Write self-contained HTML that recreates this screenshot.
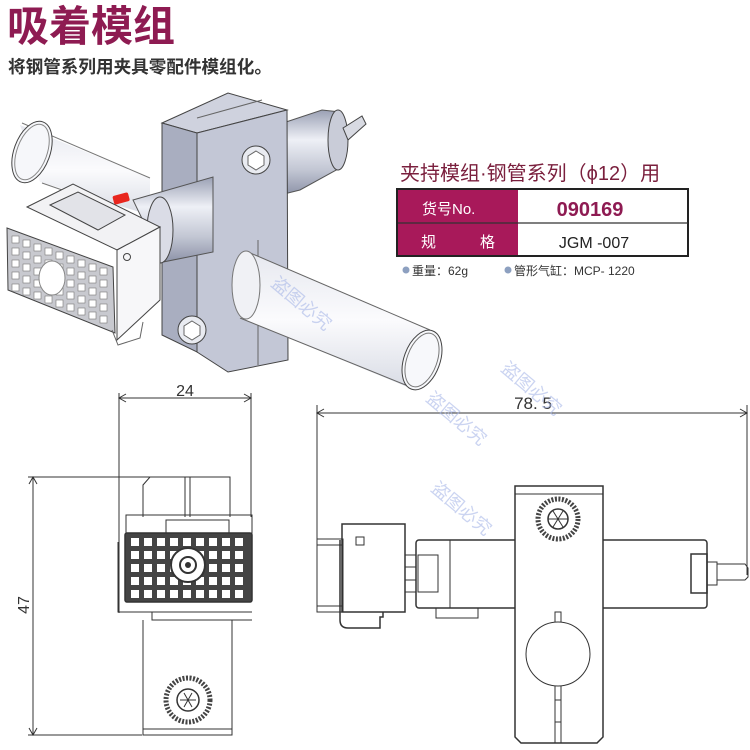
<!DOCTYPE html>
<html><head><meta charset="utf-8"><style>
html,body{margin:0;padding:0;background:#fff;width:750px;height:750px;overflow:hidden}
svg{display:block}
text{font-family:"Liberation Sans","Noto Sans CJK SC",sans-serif}
</style></head><body>
<svg width="750" height="750" viewBox="0 0 750 750" xmlns="http://www.w3.org/2000/svg">
<defs>
<linearGradient id="cyl" x1="0" y1="0" x2="0" y2="1">
<stop offset="0" stop-color="#9aa0b4"/><stop offset=".35" stop-color="#eef0f6"/><stop offset=".7" stop-color="#c3c7d4"/><stop offset="1" stop-color="#8d93a8"/></linearGradient>
<linearGradient id="tube" x1="0" y1="0" x2="0" y2="1">
<stop offset="0" stop-color="#e6e8ef"/><stop offset=".5" stop-color="#fbfbfd"/><stop offset="1" stop-color="#d9dce5"/></linearGradient>
</defs>
<text x="7" y="41" font-size="42" font-weight="bold" fill="#8e1b52">吸着模组</text>
<text x="8" y="73" font-size="17.6" font-weight="bold" fill="#333">将钢管系列用夹具零配件模组化。</text>

<g stroke="#444" stroke-width="1">
<path d="M20,125 L150,178 L150,215 L40,182 Z" fill="url(#tube)" stroke="none"/>
<path d="M22,123 L150,178 M42,183 L120,210" fill="none" stroke="#777"/>
<ellipse cx="32" cy="152" rx="18" ry="32" transform="rotate(20 32 152)" fill="#f6f7fa"/>
<ellipse cx="32" cy="152" rx="15" ry="29" transform="rotate(20 32 152)" fill="none" stroke="#888"/>
<path d="M280,124 L322,110 L340,112 L340,168 L300,190 L280,195 Z" fill="url(#cyl)" stroke="#555"/>
<ellipse cx="338" cy="140" rx="10" ry="30" fill="#c9ccd8"/>
<path d="M343,128 L362,116 L366,124 L348,140 Z" fill="#d8dae2"/>
<!-- clamp block -->
<polygon points="162,123 228,93 287,110 197,133" fill="#cfd2de"/>
<line x1="197" y1="118" x2="262" y2="100" stroke="#666"/>
<polygon points="162,123 197,133 197,352 162,335" fill="#a9aec0"/>
<polygon points="197,133 287,110 288,360 228,372 197,352" fill="#c3c7d6"/>
<line x1="258" y1="240" x2="258" y2="365" stroke="#666"/>
<!-- middle cylinder (in front of clamp left face) -->
<path d="M133,200 L213,177 L213,252 L163,262 Z" fill="url(#cyl)" stroke="#555"/>
<ellipse cx="160" cy="230" rx="13" ry="33" fill="#dadce6"/>
<rect x="113" y="194" width="16" height="9" rx="2" fill="#e8261e" stroke="none" transform="rotate(-15 121 198)"/>
<!-- connector -->
<polygon points="27,207 73,184 160,227 117,250" fill="#f2f2f4"/>
<polygon points="50,205 78,192 125,215 98,230" fill="#e2e3e8"/>
<polygon points="117,250 160,227 160,300 117,340" fill="#f7f7f9"/>
<circle cx="127" cy="257" r="3.5" fill="none"/>
<polygon points="7,228 113,267 115,333 8,290" fill="#c8c9cf"/>
<g fill="#fff" stroke="#777" stroke-width=".6">
<g id="gr">
<rect x="12" y="236" width="7" height="7"/><rect x="23" y="240" width="7" height="7"/><rect x="34" y="244" width="7" height="7"/><rect x="45" y="248" width="7" height="7"/><rect x="56" y="252" width="7" height="7"/><rect x="67" y="256" width="7" height="7"/><rect x="78" y="260" width="7" height="7"/><rect x="89" y="264" width="7" height="7"/><rect x="100" y="268" width="7" height="7"/>
</g>
<use href="#gr" y="12"/><use href="#gr" y="24"/><use href="#gr" y="36"/><use href="#gr" y="48"/>
</g>
<ellipse cx="52" cy="278" rx="13" ry="17" fill="#fff" stroke="#888"/>
<path d="M112,330 L118,345 L140,338 L143,322" fill="none" stroke="#666"/>
<!-- lower tube -->
<path d="M248,252 L430,330 L410,388 L240,318 Z" fill="url(#tube)" stroke="none"/>
<path d="M248,252 L430,330 M240,318 L408,386" fill="none" stroke="#666"/>
<ellipse cx="246" cy="285" rx="14" ry="34" fill="#f0f1f5" stroke="#777"/>
<ellipse cx="422" cy="360" rx="18" ry="31" transform="rotate(20 422 360)" fill="#f7f8fb"/>
<ellipse cx="422" cy="360" rx="15" ry="28" transform="rotate(20 422 360)" fill="none" stroke="#777"/>
<circle cx="256" cy="160" r="14" fill="#e9ebf1"/><polygon points="256,151 264,156 264,165 256,170 248,165 248,156" fill="#fff" stroke="#666"/>
<circle cx="192" cy="330" r="14" fill="#e9ebf1"/><polygon points="192,321 200,326 200,335 192,340 184,335 184,326" fill="#fff" stroke="#666"/>
</g>

<text x="400" y="180" font-size="20" fill="#7a1f3d">夹持模组·钢管系列（ϕ12）用</text>
<rect x="397" y="189" width="291" height="67" fill="#fff" stroke="#222" stroke-width="2"/>
<rect x="398" y="190" width="120" height="65" fill="#a8195a"/>
<line x1="398" y1="223" x2="688" y2="223" stroke="#333" stroke-width="1.2"/>
<text x="422" y="214" font-size="15" fill="#fff">货号No.</text>
<text x="421" y="247" font-size="15" fill="#fff">规</text>
<text x="480" y="247" font-size="15" fill="#fff">格</text>
<text x="590" y="216" font-size="20" font-weight="bold" fill="#8e1b52" text-anchor="middle">090169</text>
<text x="594" y="248" font-size="16" fill="#222" text-anchor="middle">JGM -007</text>
<circle cx="406" cy="270" r="3.5" fill="#8da0c0"/>
<text x="412" y="275" font-size="12" fill="#333">重量：62g</text>
<circle cx="508" cy="270" r="3.5" fill="#8da0c0"/>
<text x="514" y="275" font-size="12" fill="#333">管形气缸：MCP- 1220</text>

<!-- front view -->
<g fill="none" stroke="#333" stroke-width="1">
<line x1="119" y1="398" x2="251" y2="398"/>
<line x1="119" y1="393" x2="119" y2="613"/><line x1="251" y1="393" x2="251" y2="517"/>
<line x1="33" y1="477" x2="33" y2="735"/>
<line x1="28" y1="477" x2="150" y2="477"/><line x1="28" y1="735" x2="142" y2="735"/>
<path d="M126,394 L119,398 L126,402 M244,394 L251,398 L244,402 M29,484 L33,477 L37,484 M29,728 L33,735 L37,728"/>
<polyline points="143,517 143,485 150,477 230,477 230,517"/>
<line x1="185" y1="477" x2="185" y2="517"/><line x1="190" y1="477" x2="190" y2="517"/>
<rect x="126" y="515" width="126" height="18"/>
<rect x="166" y="520" width="63" height="13"/>
<polyline points="118,542 118,612 252,612"/>
<polyline points="152,612 152,620 252,620"/>
<polyline points="143,620 143,735 232,735 232,620"/>
<line x1="143" y1="729" x2="232" y2="729"/>
</g>
<rect x="125" y="533" width="127" height="69" rx="2" fill="#444" stroke="#333" stroke-width="1.5"/>
<g fill="#fff">
<g id="fr"><rect x="131" y="538" width="8" height="8"/><rect x="144" y="538" width="8" height="8"/><rect x="157" y="538" width="8" height="8"/><rect x="170" y="538" width="8" height="8"/><rect x="183" y="538" width="8" height="8"/><rect x="196" y="538" width="8" height="8"/><rect x="209" y="538" width="8" height="8"/><rect x="222" y="538" width="8" height="8"/><rect x="235" y="538" width="8" height="8"/></g>
<use href="#fr" y="13"/><use href="#fr" y="26"/><use href="#fr" y="39"/><use href="#fr" y="52"/>
</g>
<circle cx="188" cy="565" r="17" fill="#fff" stroke="#333" stroke-width="2"/>
<circle cx="188" cy="565" r="8" fill="none" stroke="#333" stroke-width="2"/>
<circle cx="188" cy="565" r="3" fill="#333"/>
<circle cx="188" cy="700" r="22" fill="none" stroke="#444" stroke-width="5" stroke-dasharray="2 1.5"/>
<circle cx="188" cy="700" r="11" fill="none" stroke="#333" stroke-width="1.5"/>
<path d="M180,700 H196 M184,693 L192,707 M192,693 L184,707" stroke="#333"/>
<text x="185" y="396" font-size="16" fill="#333" text-anchor="middle">24</text>
<text transform="translate(29,605) rotate(-90)" font-size="16" fill="#333" text-anchor="middle">47</text>

<!-- side view -->
<g fill="none" stroke="#333" stroke-width="1">
<line x1="317" y1="413" x2="747" y2="413"/>
<line x1="317" y1="405" x2="317" y2="612"/><line x1="747" y1="405" x2="747" y2="575"/>
<path d="M324,409 L317,413 L324,417 M740,409 L747,413 L740,417"/>
<rect x="416" y="540" width="291" height="68" rx="3" stroke-width="1.5"/>
<line x1="450" y1="540" x2="450" y2="608"/>
<rect x="418" y="555" width="20" height="37"/>
<rect x="691" y="554" width="16" height="39" stroke-width="1.5"/>
<rect x="707" y="562" width="10" height="23"/>
<path d="M717,564 H745 L748,568 V577 L745,580 H717"/>
<rect x="436" y="608" width="42" height="10"/>
<rect x="317" y="539" width="26" height="73"/>
<line x1="317" y1="545" x2="343" y2="545"/><line x1="317" y1="606" x2="343" y2="606"/>
<rect x="342" y="524" width="63" height="88" stroke-width="1.5"/>
<path d="M340,540 V620 Q340,628 348,628 H380 V617 H383 V612" stroke-width="1.5"/>
<rect x="356" y="537" width="8" height="8"/>
<rect x="405" y="555" width="11" height="37"/>
<line x1="405" y1="567" x2="416" y2="567"/><line x1="405" y1="580" x2="416" y2="580"/>
<path d="M515,486 H603 V737 L597,743 H521 L515,737 Z" fill="#fff" stroke-width="1.5"/>
<line x1="515" y1="494" x2="603" y2="494"/>
<circle cx="558" cy="654" r="32" fill="#fff"/>
<path d="M555,622 V612 H561 V622"/>
<path d="M555,686 V743 M561,686 V743 M555,700 H561 M555,722 H561"/>
</g>
<circle cx="558" cy="519" r="20" fill="none" stroke="#444" stroke-width="5" stroke-dasharray="2 1.5"/>
<circle cx="558" cy="519" r="10" fill="none" stroke="#333" stroke-width="1.5"/>
<path d="M548,519 H568 M553,511 L563,527 M563,511 L553,527" stroke="#333"/>
<text x="533" y="409" font-size="17" fill="#333" text-anchor="middle">78. 5</text>

<g fill="#a9b8e8" font-size="18" opacity=".6">
<text transform="translate(425,400) rotate(40)">盗图必究</text>
<text transform="translate(500,370) rotate(40)">盗图必究</text>
<text transform="translate(270,285) rotate(40)">盗图必究</text>
<text transform="translate(430,490) rotate(40)">盗图必究</text>
</g>
</svg>
</body></html>
